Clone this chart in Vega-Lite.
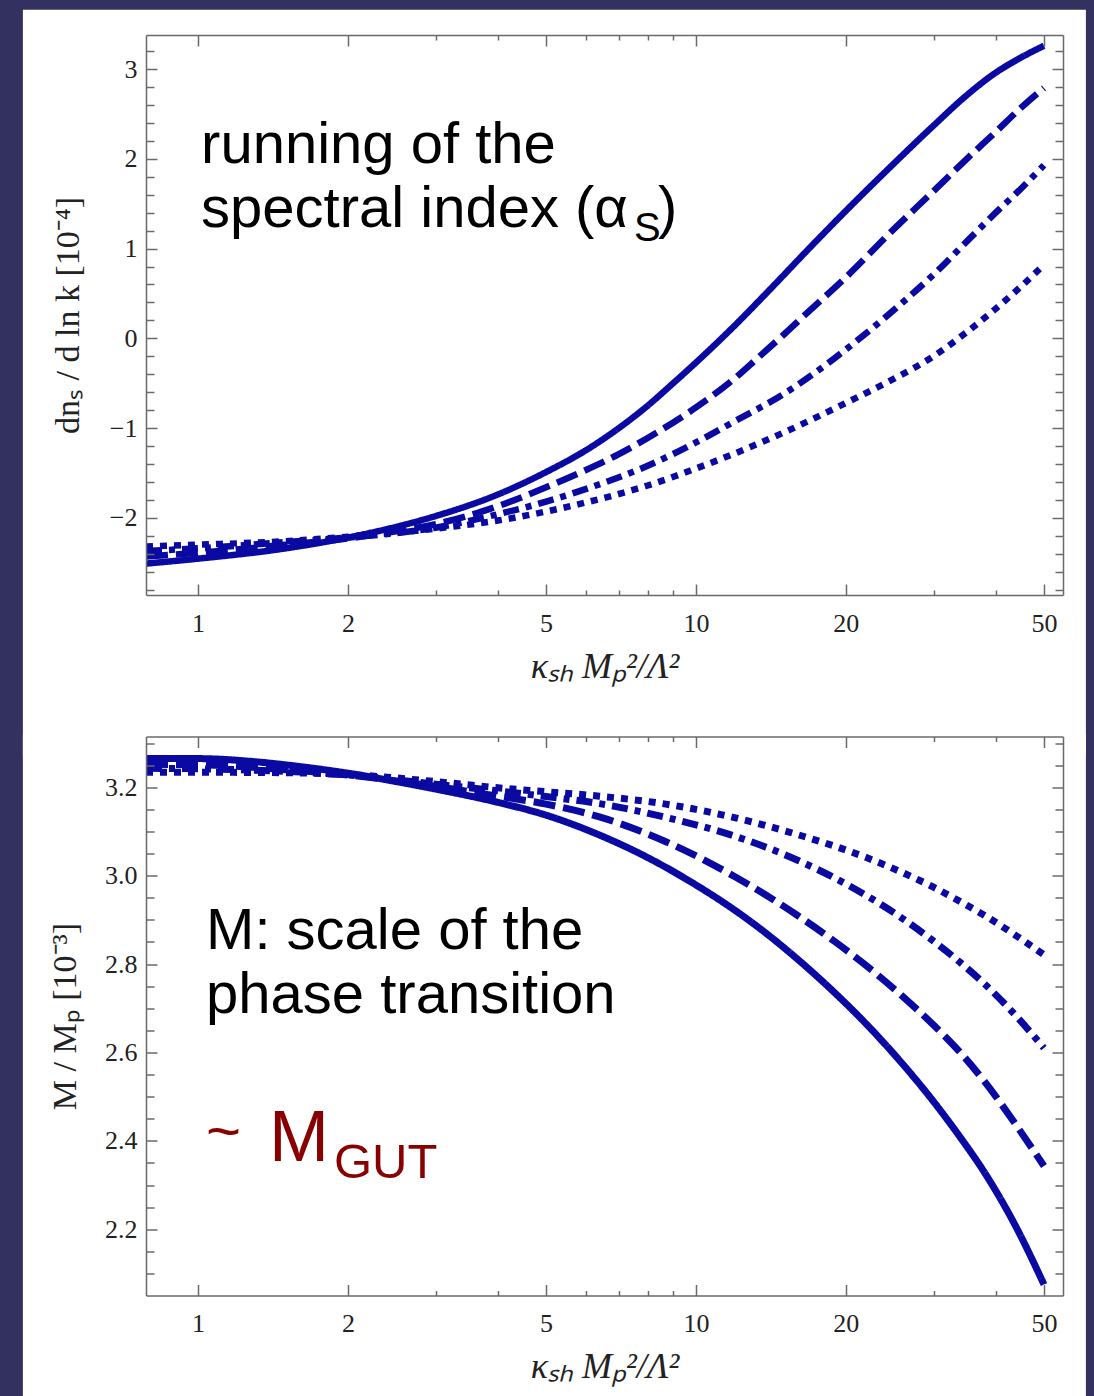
{
  "$schema": "https://vega.github.io/schema/vega-lite/v6.json",
  "background": "#32315f",
  "padding": {"left": 22, "top": 9, "right": 9, "bottom": 0},
  "config": {"view": {"stroke": null}},
  "bounds": "flush",
  "spacing": 141.5,
  "vconcat": [
    {
      "width": 917,
      "height": 560,
      "resolve": {"axis": {"x": "independent", "y": "independent"}},
      "layer": [
        {
          "data": {"values": [{}]},
          "mark": {"type": "rect", "color": "#ffffff"},
          "encoding": {
            "x": {"datum": 0.4448, "type": "quantitative", "scale": {"type": "log", "domain": [0.786, 54.6], "nice": false}, "axis": null},
            "x2": {"datum": 60.7},
            "y": {"datum": 3.66, "type": "quantitative", "scale": {"domain": [-2.86, 3.38], "nice": false, "zero": false}, "axis": null},
            "y2": {"datum": -4.65}
          }
        },
        {
          "data": {"values": [
            {"x": 0.786, "y": -2.51, "s": "solid"}, {"x": 1, "y": -2.455, "s": "solid"}, {"x": 1.5, "y": -2.34, "s": "solid"}, {"x": 2, "y": -2.22, "s": "solid"}, {"x": 2.5, "y": -2.1, "s": "solid"}, {"x": 3, "y": -1.98, "s": "solid"}, {"x": 4, "y": -1.74, "s": "solid"}, {"x": 5, "y": -1.49, "s": "solid"}, {"x": 6, "y": -1.25, "s": "solid"}, {"x": 7, "y": -1.0, "s": "solid"}, {"x": 8, "y": -0.75, "s": "solid"}, {"x": 9, "y": -0.5, "s": "solid"}, {"x": 10, "y": -0.27, "s": "solid"}, {"x": 12, "y": 0.15, "s": "solid"}, {"x": 14, "y": 0.53, "s": "solid"}, {"x": 17, "y": 1.02, "s": "solid"}, {"x": 20, "y": 1.42, "s": "solid"}, {"x": 25, "y": 1.95, "s": "solid"}, {"x": 30, "y": 2.37, "s": "solid"}, {"x": 35, "y": 2.71, "s": "solid"}, {"x": 40, "y": 2.96, "s": "solid"}, {"x": 45, "y": 3.13, "s": "solid"}, {"x": 50, "y": 3.26, "s": "solid"},
            {"x": 0.786, "y": -2.43, "s": "dashed"}, {"x": 1, "y": -2.39, "s": "dashed"}, {"x": 1.5, "y": -2.3, "s": "dashed"}, {"x": 2, "y": -2.23, "s": "dashed"}, {"x": 2.5, "y": -2.15, "s": "dashed"}, {"x": 3, "y": -2.07, "s": "dashed"}, {"x": 4, "y": -1.87, "s": "dashed"}, {"x": 5, "y": -1.66, "s": "dashed"}, {"x": 6, "y": -1.47, "s": "dashed"}, {"x": 7, "y": -1.29, "s": "dashed"}, {"x": 8, "y": -1.11, "s": "dashed"}, {"x": 10, "y": -0.77, "s": "dashed"}, {"x": 12, "y": -0.44, "s": "dashed"}, {"x": 13.3, "y": -0.22, "s": "dashed"}, {"x": 15, "y": 0.04, "s": "dashed"}, {"x": 17, "y": 0.32, "s": "dashed"}, {"x": 20, "y": 0.68, "s": "dashed"}, {"x": 25, "y": 1.22, "s": "dashed"}, {"x": 30, "y": 1.64, "s": "dashed"}, {"x": 35, "y": 2.0, "s": "dashed"}, {"x": 40, "y": 2.3, "s": "dashed"}, {"x": 45, "y": 2.57, "s": "dashed"}, {"x": 50, "y": 2.79, "s": "dashed"},
            {"x": 0.786, "y": -2.37, "s": "dashdot"}, {"x": 1, "y": -2.34, "s": "dashdot"}, {"x": 1.5, "y": -2.27, "s": "dashdot"}, {"x": 2, "y": -2.22, "s": "dashdot"}, {"x": 3, "y": -2.11, "s": "dashdot"}, {"x": 4, "y": -1.96, "s": "dashdot"}, {"x": 5, "y": -1.82, "s": "dashdot"}, {"x": 6, "y": -1.68, "s": "dashdot"}, {"x": 8, "y": -1.42, "s": "dashdot"}, {"x": 10, "y": -1.16, "s": "dashdot"}, {"x": 12, "y": -0.92, "s": "dashdot"}, {"x": 15, "y": -0.62, "s": "dashdot"}, {"x": 19, "y": -0.22, "s": "dashdot"}, {"x": 22, "y": 0.06, "s": "dashdot"}, {"x": 26, "y": 0.4, "s": "dashdot"}, {"x": 30, "y": 0.71, "s": "dashdot"}, {"x": 35, "y": 1.08, "s": "dashdot"}, {"x": 40, "y": 1.4, "s": "dashdot"}, {"x": 45, "y": 1.67, "s": "dashdot"}, {"x": 50, "y": 1.93, "s": "dashdot"},
            {"x": 0.786, "y": -2.32, "s": "dotted"}, {"x": 1, "y": -2.3, "s": "dotted"}, {"x": 1.5, "y": -2.26, "s": "dotted"}, {"x": 2, "y": -2.21, "s": "dotted"}, {"x": 3, "y": -2.12, "s": "dotted"}, {"x": 4, "y": -2.03, "s": "dotted"}, {"x": 5, "y": -1.93, "s": "dotted"}, {"x": 6, "y": -1.83, "s": "dotted"}, {"x": 8, "y": -1.64, "s": "dotted"}, {"x": 10, "y": -1.45, "s": "dotted"}, {"x": 12, "y": -1.28, "s": "dotted"}, {"x": 15, "y": -1.05, "s": "dotted"}, {"x": 20, "y": -0.72, "s": "dotted"}, {"x": 25, "y": -0.45, "s": "dotted"}, {"x": 30, "y": -0.2, "s": "dotted"}, {"x": 35, "y": 0.07, "s": "dotted"}, {"x": 40, "y": 0.33, "s": "dotted"}, {"x": 45, "y": 0.58, "s": "dotted"}, {"x": 50, "y": 0.82, "s": "dotted"}
          ]},
          "mark": {"type": "line", "color": "#0a0aa3", "strokeWidth": 6.5, "strokeCap": "butt", "interpolate": "monotone", "clip": true},
          "encoding": {
            "x": {"field": "x", "type": "quantitative", "scale": {"type": "log", "domain": [0.786, 54.6], "nice": false},
              "axis": {"orient": "bottom", "values": [1,2,3,4,5,6,7,8,9,10,20,30,40,50], "format": "d",
                "labelExpr": "indexof([1,2,5,10,20,50], datum.value) >= 0 ? datum.label : ''",
                "tickSize": {"condition": {"test": "indexof([1,2,5,10,20,50], datum.value) >= 0", "value": -11}, "value": -5},
                "labelFontSize": {"condition": {"test": "indexof([1,2,5,10,20,50], datum.value) >= 0", "value": 26}, "value": 1},
                "labelPadding": 26, "labelFlush": false, "labelOverlap": false,
                "labelFont": "Liberation Serif", "labelColor": "#222222",
                "domainColor": "#6a6a6a", "domainWidth": 1.5, "tickColor": "#6a6a6a", "tickWidth": 1.5, "grid": false, "zindex": 1,
                "title": "κₛₕ Mₚ²/Λ²", "titleFont": "Liberation Serif", "titleFontSize": 36, "titleFontStyle": "italic", "titleFontWeight": "normal", "titleColor": "#222222", "titlePadding": 13}},
            "y": {"field": "y", "type": "quantitative", "scale": {"domain": [-2.86, 3.38], "nice": false, "zero": false},
              "axis": {"orient": "left", "values": [-2, -1, 0, 1, 2, 3], "format": "d",
                "tickSize": -11, "labelFontSize": 26,
                "labelPadding": 20, "labelFlush": false, "labelOverlap": false,
                "labelFont": "Liberation Serif", "labelColor": "#222222",
                "domainColor": "#6a6a6a", "domainWidth": 1.5, "tickColor": "#6a6a6a", "tickWidth": 1.5, "grid": false, "zindex": 1,
                "title": "dnₛ / d ln k [10⁻⁴]", "titleFont": "Liberation Serif", "titleFontSize": 34, "titleFontWeight": "normal", "titleColor": "#222222", "titlePadding": 24}},
            "strokeDash": {"field": "s", "type": "nominal", "scale": {"domain": ["solid", "dashed", "dashdot", "dotted"], "range": [[1, 0], [22, 8], [16, 7, 6, 7], [7, 7]]}, "legend": null}
          }
        },
        {
          "data": {"values": [{"x": 1.014, "y": 1.951, "label": "running of the"}]},
          "mark": {"type": "text", "font": "Liberation Sans", "fontSize": 58, "align": "left", "baseline": "alphabetic", "color": "#000000"},
          "encoding": {
            "x": {"field": "x", "type": "quantitative", "scale": {"type": "log", "domain": [0.786, 54.6], "nice": false},
              "axis": {"orient": "top", "values": [1,2,3,4,5,6,7,8,9,10,20,30,40,50], "labels": false, "title": null,
                "tickSize": {"condition": {"test": "indexof([1,2,5,10,20,50], datum.value) >= 0", "value": -11}, "value": -5},
                "domainColor": "#6a6a6a", "domainWidth": 1.5, "tickColor": "#6a6a6a", "tickWidth": 1.5, "grid": false, "zindex": 1}},
            "y": {"field": "y", "type": "quantitative", "scale": {"domain": [-2.86, 3.38], "nice": false, "zero": false},
              "axis": {"orient": "right", "values": [-2, -1, 0, 1, 2, 3], "labels": false, "title": null, "tickSize": -11,
                "domainColor": "#6a6a6a", "domainWidth": 1.5, "tickColor": "#6a6a6a", "tickWidth": 1.5, "grid": false, "zindex": 1}},
            "text": {"field": "label"}
          }
        },
        {
          "data": {"values": [{"x": 1.014, "y": 1.237, "label": "spectral index (α"}]},
          "mark": {"type": "text", "font": "Liberation Sans", "fontSize": 58, "align": "left", "baseline": "alphabetic", "color": "#000000"},
          "encoding": {
            "x": {"field": "x", "type": "quantitative", "scale": {"type": "log", "domain": [0.786, 54.6], "nice": false}, "axis": null},
            "y": {"field": "y", "type": "quantitative", "scale": {"domain": [-2.86, 3.38], "nice": false, "zero": false},
              "axis": {"orient": "left", "values": [-2.8,-2.6,-2.4,-2.2,-1.8,-1.6,-1.4,-1.2,-0.8,-0.6,-0.4,-0.2,0.2,0.4,0.6,0.8,1.2,1.4,1.6,1.8,2.2,2.4,2.6,2.8,3.2], "labels": false, "title": null, "domain": false, "tickSize": -8,
                "tickColor": "#6a6a6a", "tickWidth": 1.5, "grid": false, "zindex": 1}},
            "text": {"field": "label"}
          }
        },
        {
          "data": {"values": [{"x": 7.508, "y": 1.081, "label": "S"}]},
          "mark": {"type": "text", "font": "Liberation Sans", "fontSize": 40, "align": "left", "baseline": "alphabetic", "color": "#000000"},
          "encoding": {
            "x": {"field": "x", "type": "quantitative", "scale": {"type": "log", "domain": [0.786, 54.6], "nice": false}, "axis": null},
            "y": {"field": "y", "type": "quantitative", "scale": {"domain": [-2.86, 3.38], "nice": false, "zero": false},
              "axis": {"orient": "right", "values": [-2.8,-2.6,-2.4,-2.2,-1.8,-1.6,-1.4,-1.2,-0.8,-0.6,-0.4,-0.2,0.2,0.4,0.6,0.8,1.2,1.4,1.6,1.8,2.2,2.4,2.6,2.8,3.2], "labels": false, "title": null, "domain": false, "tickSize": -8,
                "tickColor": "#6a6a6a", "tickWidth": 1.5, "grid": false, "zindex": 1}},
            "text": {"field": "label"}
          }
        },
        {
          "data": {"values": [{"x": 8.388, "y": 1.237, "label": ")"}]},
          "mark": {"type": "text", "font": "Liberation Sans", "fontSize": 58, "align": "left", "baseline": "alphabetic", "color": "#000000"},
          "encoding": {
            "x": {"field": "x", "type": "quantitative", "scale": {"type": "log", "domain": [0.786, 54.6], "nice": false}, "axis": null},
            "y": {"field": "y", "type": "quantitative", "scale": {"domain": [-2.86, 3.38], "nice": false, "zero": false}, "axis": null},
            "text": {"field": "label"}
          }
        }
      ]
    },
    {
      "width": 917,
      "height": 559,
      "resolve": {"axis": {"x": "independent", "y": "independent"}},
      "layer": [
        {
          "data": {"values": [{}]},
          "mark": {"type": "rect", "color": "#ffffff"},
          "encoding": {
            "x": {"datum": 0.4448, "type": "quantitative", "scale": {"type": "log", "domain": [0.786, 54.6], "nice": false}, "axis": null},
            "x2": {"datum": 60.7},
            "y": {"datum": 3.32, "type": "quantitative", "scale": {"domain": [2.05, 3.315], "nice": false, "zero": false}, "axis": null},
            "y2": {"datum": 1.71}
          }
        },
        {
          "data": {"values": [
            {"x": 0.786, "y": 3.265, "s": "solid"}, {"x": 1, "y": 3.265, "s": "solid"}, {"x": 1.3, "y": 3.258, "s": "solid"}, {"x": 1.6, "y": 3.247, "s": "solid"}, {"x": 2, "y": 3.232, "s": "solid"}, {"x": 2.5, "y": 3.213, "s": "solid"}, {"x": 3, "y": 3.196, "s": "solid"}, {"x": 4, "y": 3.166, "s": "solid"}, {"x": 5, "y": 3.137, "s": "solid"}, {"x": 6.4, "y": 3.092, "s": "solid"}, {"x": 8, "y": 3.041, "s": "solid"}, {"x": 10, "y": 2.979, "s": "solid"}, {"x": 12, "y": 2.921, "s": "solid"}, {"x": 14, "y": 2.865, "s": "solid"}, {"x": 16, "y": 2.811, "s": "solid"}, {"x": 19, "y": 2.735, "s": "solid"}, {"x": 22, "y": 2.664, "s": "solid"}, {"x": 26, "y": 2.574, "s": "solid"}, {"x": 30, "y": 2.489, "s": "solid"}, {"x": 34, "y": 2.407, "s": "solid"}, {"x": 38, "y": 2.328, "s": "solid"}, {"x": 44, "y": 2.204, "s": "solid"}, {"x": 50, "y": 2.075, "s": "solid"},
            {"x": 0.786, "y": 3.252, "s": "dashed"}, {"x": 1, "y": 3.251, "s": "dashed"}, {"x": 1.5, "y": 3.24, "s": "dashed"}, {"x": 2, "y": 3.228, "s": "dashed"}, {"x": 3, "y": 3.202, "s": "dashed"}, {"x": 4, "y": 3.18, "s": "dashed"}, {"x": 5, "y": 3.162, "s": "dashed"}, {"x": 6.4, "y": 3.133, "s": "dashed"}, {"x": 8.7, "y": 3.077, "s": "dashed"}, {"x": 12, "y": 2.997, "s": "dashed"}, {"x": 16, "y": 2.91, "s": "dashed"}, {"x": 19, "y": 2.851, "s": "dashed"}, {"x": 22, "y": 2.796, "s": "dashed"}, {"x": 26, "y": 2.727, "s": "dashed"}, {"x": 30, "y": 2.662, "s": "dashed"}, {"x": 34, "y": 2.599, "s": "dashed"}, {"x": 38, "y": 2.534, "s": "dashed"}, {"x": 44, "y": 2.435, "s": "dashed"}, {"x": 50, "y": 2.343, "s": "dashed"},
            {"x": 0.786, "y": 3.243, "s": "dashdot"}, {"x": 1, "y": 3.242, "s": "dashdot"}, {"x": 1.5, "y": 3.236, "s": "dashdot"}, {"x": 2, "y": 3.228, "s": "dashdot"}, {"x": 3, "y": 3.207, "s": "dashdot"}, {"x": 4, "y": 3.192, "s": "dashdot"}, {"x": 5, "y": 3.179, "s": "dashdot"}, {"x": 6.4, "y": 3.163, "s": "dashdot"}, {"x": 8.7, "y": 3.132, "s": "dashdot"}, {"x": 12, "y": 3.089, "s": "dashdot"}, {"x": 16, "y": 3.035, "s": "dashdot"}, {"x": 22, "y": 2.955, "s": "dashdot"}, {"x": 26, "y": 2.903, "s": "dashdot"}, {"x": 30, "y": 2.852, "s": "dashdot"}, {"x": 34, "y": 2.803, "s": "dashdot"}, {"x": 38, "y": 2.755, "s": "dashdot"}, {"x": 44, "y": 2.682, "s": "dashdot"}, {"x": 50, "y": 2.61, "s": "dashdot"},
            {"x": 0.786, "y": 3.234, "s": "dotted"}, {"x": 1, "y": 3.234, "s": "dotted"}, {"x": 1.5, "y": 3.233, "s": "dotted"}, {"x": 2, "y": 3.229, "s": "dotted"}, {"x": 3, "y": 3.213, "s": "dotted"}, {"x": 4, "y": 3.199, "s": "dotted"}, {"x": 5, "y": 3.19, "s": "dotted"}, {"x": 6.4, "y": 3.18, "s": "dotted"}, {"x": 8.7, "y": 3.162, "s": "dotted"}, {"x": 12, "y": 3.131, "s": "dotted"}, {"x": 16, "y": 3.093, "s": "dotted"}, {"x": 22, "y": 3.041, "s": "dotted"}, {"x": 26, "y": 3.007, "s": "dotted"}, {"x": 30, "y": 2.974, "s": "dotted"}, {"x": 34, "y": 2.941, "s": "dotted"}, {"x": 38, "y": 2.91, "s": "dotted"}, {"x": 44, "y": 2.864, "s": "dotted"}, {"x": 50, "y": 2.821, "s": "dotted"}
          ]},
          "mark": {"type": "line", "color": "#0a0aa3", "strokeWidth": 7, "strokeCap": "butt", "interpolate": "monotone", "clip": true},
          "encoding": {
            "x": {"field": "x", "type": "quantitative", "scale": {"type": "log", "domain": [0.786, 54.6], "nice": false},
              "axis": {"orient": "bottom", "values": [1,2,3,4,5,6,7,8,9,10,20,30,40,50], "format": "d",
                "labelExpr": "indexof([1,2,5,10,20,50], datum.value) >= 0 ? datum.label : ''",
                "tickSize": {"condition": {"test": "indexof([1,2,5,10,20,50], datum.value) >= 0", "value": -11}, "value": -5},
                "labelFontSize": {"condition": {"test": "indexof([1,2,5,10,20,50], datum.value) >= 0", "value": 26}, "value": 1},
                "labelPadding": 26, "labelFlush": false, "labelOverlap": false,
                "labelFont": "Liberation Serif", "labelColor": "#222222",
                "domainColor": "#6a6a6a", "domainWidth": 1.5, "tickColor": "#6a6a6a", "tickWidth": 1.5, "grid": false, "zindex": 1,
                "title": "κₛₕ Mₚ²/Λ²", "titleFont": "Liberation Serif", "titleFontSize": 36, "titleFontStyle": "italic", "titleFontWeight": "normal", "titleColor": "#222222", "titlePadding": 13}},
            "y": {"field": "y", "type": "quantitative", "scale": {"domain": [2.05, 3.315], "nice": false, "zero": false},
              "axis": {"orient": "left", "values": [2.1,2.15,2.2,2.25,2.3,2.35,2.4,2.45,2.5,2.55,2.6,2.65,2.7,2.75,2.8,2.85,2.9,2.95,3.0,3.05,3.1,3.15,3.2,3.25,3.3], "format": ".1f",
                "labelExpr": "abs(datum.value * 5 - round(datum.value * 5)) < 0.001 ? datum.label : ''",
                "tickSize": {"condition": {"test": "abs(datum.value * 5 - round(datum.value * 5)) < 0.001", "value": -11}, "value": -8},
                "labelFontSize": {"condition": {"test": "abs(datum.value * 5 - round(datum.value * 5)) < 0.001", "value": 26}, "value": 1},
                "labelPadding": 20, "labelFlush": false, "labelOverlap": false,
                "labelFont": "Liberation Serif", "labelColor": "#222222",
                "domainColor": "#6a6a6a", "domainWidth": 1.5, "tickColor": "#6a6a6a", "tickWidth": 1.5, "grid": false, "zindex": 1,
                "title": "M / Mₚ [10⁻³]", "titleFont": "Liberation Serif", "titleFontSize": 34, "titleFontWeight": "normal", "titleColor": "#222222", "titlePadding": 22}},
            "strokeDash": {"field": "s", "type": "nominal", "scale": {"domain": ["solid", "dashed", "dashdot", "dotted"], "range": [[1, 0], [11, 4], [12, 4, 6, 4], [8, 7]]}, "legend": null}
          }
        },
        {
          "data": {"values": [{"x": 1.0377, "y": 2.834, "label": "M: scale of the"}]},
          "mark": {"type": "text", "font": "Liberation Sans", "fontSize": 58, "align": "left", "baseline": "alphabetic", "color": "#000000"},
          "encoding": {
            "x": {"field": "x", "type": "quantitative", "scale": {"type": "log", "domain": [0.786, 54.6], "nice": false},
              "axis": {"orient": "top", "values": [1,2,3,4,5,6,7,8,9,10,20,30,40,50], "labels": false, "title": null,
                "tickSize": {"condition": {"test": "indexof([1,2,5,10,20,50], datum.value) >= 0", "value": -11}, "value": -5},
                "domainColor": "#6a6a6a", "domainWidth": 1.5, "tickColor": "#6a6a6a", "tickWidth": 1.5, "grid": false, "zindex": 1}},
            "y": {"field": "y", "type": "quantitative", "scale": {"domain": [2.05, 3.315], "nice": false, "zero": false},
              "axis": {"orient": "right", "values": [2.1,2.15,2.2,2.25,2.3,2.35,2.4,2.45,2.5,2.55,2.6,2.65,2.7,2.75,2.8,2.85,2.9,2.95,3.0,3.05,3.1,3.15,3.2,3.25,3.3], "labels": false, "title": null,
                "tickSize": {"condition": {"test": "abs(datum.value * 5 - round(datum.value * 5)) < 0.001", "value": -11}, "value": -8},
                "domainColor": "#6a6a6a", "domainWidth": 1.5, "tickColor": "#6a6a6a", "tickWidth": 1.5, "grid": false, "zindex": 1}},
            "text": {"field": "label"}
          }
        },
        {
          "data": {"values": [{"x": 1.0377, "y": 2.689, "label": "phase transition"}]},
          "mark": {"type": "text", "font": "Liberation Sans", "fontSize": 58, "align": "left", "baseline": "alphabetic", "color": "#000000"},
          "encoding": {
            "x": {"field": "x", "type": "quantitative", "scale": {"type": "log", "domain": [0.786, 54.6], "nice": false}, "axis": null},
            "y": {"field": "y", "type": "quantitative", "scale": {"domain": [2.05, 3.315], "nice": false, "zero": false}, "axis": null},
            "text": {"field": "label"}
          }
        },
        {
          "data": {"values": [{"x": 1.0377, "y": 2.377, "label": "~"}]},
          "mark": {"type": "text", "font": "Liberation Sans", "fontSize": 60, "align": "left", "baseline": "alphabetic", "color": "#880000"},
          "encoding": {
            "x": {"field": "x", "type": "quantitative", "scale": {"type": "log", "domain": [0.786, 54.6], "nice": false}, "axis": null},
            "y": {"field": "y", "type": "quantitative", "scale": {"domain": [2.05, 3.315], "nice": false, "zero": false}, "axis": null},
            "text": {"field": "label"}
          }
        },
        {
          "data": {"values": [{"x": 1.388, "y": 2.354, "label": "M"}]},
          "mark": {"type": "text", "font": "Liberation Sans", "fontSize": 72, "align": "left", "baseline": "alphabetic", "color": "#880000"},
          "encoding": {
            "x": {"field": "x", "type": "quantitative", "scale": {"type": "log", "domain": [0.786, 54.6], "nice": false}, "axis": null},
            "y": {"field": "y", "type": "quantitative", "scale": {"domain": [2.05, 3.315], "nice": false, "zero": false}, "axis": null},
            "text": {"field": "label"}
          }
        },
        {
          "data": {"values": [{"x": 1.875, "y": 2.3155, "label": "GUT"}]},
          "mark": {"type": "text", "font": "Liberation Sans", "fontSize": 49, "align": "left", "baseline": "alphabetic", "color": "#880000"},
          "encoding": {
            "x": {"field": "x", "type": "quantitative", "scale": {"type": "log", "domain": [0.786, 54.6], "nice": false}, "axis": null},
            "y": {"field": "y", "type": "quantitative", "scale": {"domain": [2.05, 3.315], "nice": false, "zero": false}, "axis": null},
            "text": {"field": "label"}
          }
        }
      ]
    }
  ]
}
